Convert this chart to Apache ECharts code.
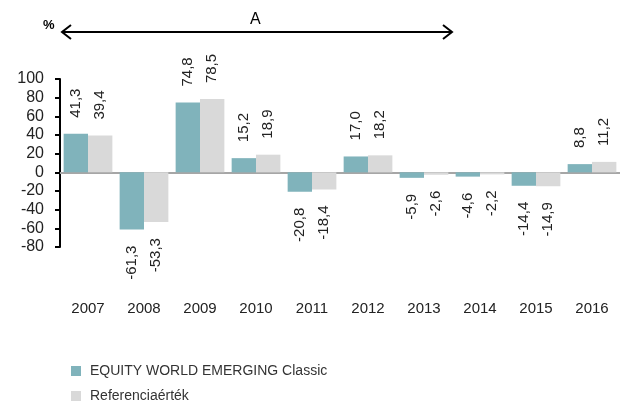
<!DOCTYPE html>
<html>
<head>
<meta charset="utf-8">
<script src="https://cdn.jsdelivr.net/npm/echarts@6/dist/echarts.min.js"></script>
<style>html,body{margin:0;padding:0;background:#fff;}#c{width:620px;height:403px;}</style>
</head>
<body>
<div id="c"></div>
<script>
const categories = ['2007','2008','2009','2010','2011','2012','2013','2014','2015','2016'];
const fundValues = [41.3, -61.3, 74.8, 15.2, -20.8, 17.0, -5.9, -4.6, -14.4, 8.8];
const benchValues = [39.4, -53.3, 78.5, 18.9, -18.4, 18.2, -2.6, -2.2, -14.9, 11.2];
const seriesNames = ['EQUITY WORLD EMERGING Classic', 'Referenciaérték'];
const yTicks = {min: -80, max: 100, interval: 20};

const FONT = '"Liberation Sans", Arial, sans-serif';

function labelled(vals) {
  return vals.map(v => ({
    value: v,
    label: v >= 0
      ? {position: 'top', align: 'left', verticalAlign: 'middle'}
      : {position: 'bottom', align: 'right', verticalAlign: 'middle'}
  }));
}

const baseLabel = {
  show: true, rotate: 90, distance: 16, fontSize: 15, color: '#222', fontFamily: FONT,
  formatter: p => p.value.toFixed(1).replace('.', ',')
};

const chart = echarts.init(document.getElementById('c'), null, {renderer: 'canvas'});
const legendCommon = {
  orient: 'horizontal', left: 71, itemWidth: 10, itemHeight: 10, padding: 0, itemGap: 8,
  icon: 'rect', selectedMode: false,
  textStyle: {fontSize: 14, color: '#333', fontFamily: FONT, padding: [0, 0, 0, 4]}
};
chart.setOption({
  animation: false,
  backgroundColor: '#fff',
  grid: {left: 60, top: 79, height: 168, width: 576, containLabel: false},
  legend: [
    Object.assign({}, legendCommon, {top: 364, data: [seriesNames[0]]}),
    Object.assign({}, legendCommon, {top: 389, data: [seriesNames[1]]})
  ],
  xAxis: [
    {type: 'category', data: categories, axisLine: {onZero: true, lineStyle: {color: '#a6a6a6', width: 2}},
     axisTick: {show: false}, axisLabel: {show: false}},
    {type: 'category', data: categories, position: 'bottom', axisLine: {show: false, onZero: false},
     axisTick: {show: false}, axisLabel: {margin: 54, fontSize: 15, color: '#222', fontFamily: FONT}}
  ],
  yAxis: {
    type: 'value', min: yTicks.min, max: yTicks.max, interval: yTicks.interval,
    axisLine: {show: true, lineStyle: {color: '#000', width: 2}},
    axisTick: {show: true, inside: false, length: 5, lineStyle: {color: '#000', width: 2}},
    splitLine: {show: false},
    axisLabel: {margin: 16, fontSize: 16, color: '#222', fontFamily: FONT}
  },
  series: [
    {name: seriesNames[0], type: 'bar', xAxisIndex: 0, data: labelled(fundValues),
     itemStyle: {color: '#80b3bb'}, barGap: '0%', barCategoryGap: '13%', label: baseLabel},
    {name: seriesNames[1], type: 'bar', xAxisIndex: 0, data: labelled(benchValues),
     itemStyle: {color: '#d9d9d9'}, barGap: '0%', barCategoryGap: '13%', label: baseLabel}
  ],
  graphic: [
    {type: 'text', left: 43, top: 19, style: {text: '%', fontSize: 13, fontWeight: 'bold', fill: '#000', fontFamily: FONT}},
    {type: 'text', left: 250, top: 12, style: {text: 'A', fontSize: 16, fill: '#000', fontFamily: FONT}},
    {type: 'line', shape: {x1: 62, y1: 32, x2: 452, y2: 32}, style: {stroke: '#000', lineWidth: 2}},
    {type: 'polyline', shape: {points: [[71, 25], [62, 32], [71, 39]]}, style: {stroke: '#000', lineWidth: 2, fill: null}},
    {type: 'polyline', shape: {points: [[443, 25], [452, 32], [443, 39]]}, style: {stroke: '#000', lineWidth: 2, fill: null}}
  ]
});
</script>
</body>
</html>
